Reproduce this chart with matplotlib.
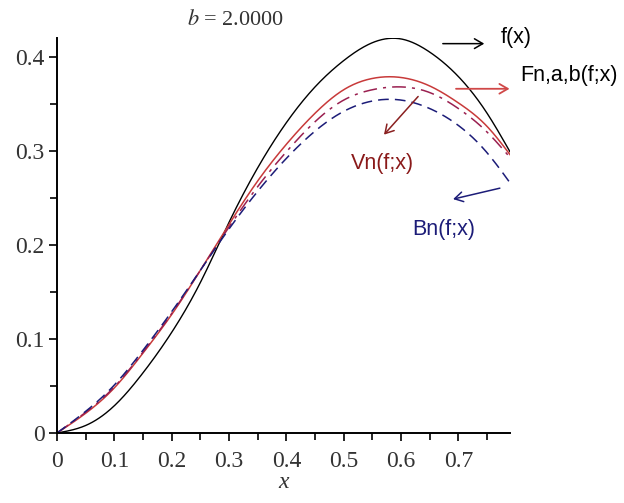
import numpy as np
import matplotlib
matplotlib.use("Agg")
import matplotlib.pyplot as plt

# Data
x_pts = [0, 0.05, 0.1, 0.15, 0.2, 0.25, 0.3, 0.35, 0.4, 0.45, 0.5, 0.55, 0.6, 0.65, 0.7, 0.75, 0.79]
f_vals = [0, 0.008, 0.029, 0.064, 0.107, 0.16, 0.224, 0.282, 0.33, 0.368, 0.396, 0.415, 0.419, 0.405, 0.379, 0.34, 0.299]
fn_vals = [0, 0.021, 0.048, 0.085, 0.126, 0.173, 0.222, 0.268, 0.307, 0.34, 0.365, 0.377, 0.378, 0.369, 0.351, 0.326, 0.296]
vn_vals = [0, 0.022, 0.049, 0.086, 0.127, 0.173, 0.219, 0.262, 0.299, 0.331, 0.354, 0.365, 0.368, 0.362, 0.345, 0.32, 0.293]
bn_vals = [0, 0.023, 0.051, 0.088, 0.129, 0.173, 0.217, 0.257, 0.292, 0.321, 0.342, 0.353, 0.354, 0.345, 0.327, 0.298, 0.266]

xticks = [0, 0.1, 0.2, 0.3, 0.4, 0.5, 0.6, 0.7]
xticklabels = ["0", "0.1", "0.2", "0.3", "0.4", "0.5", "0.6", "0.7"]
yticks = [0, 0.1, 0.2, 0.3, 0.4]
yticklabels = ["0", "0.1", "0.2", "0.3", "0.4"]


def spline(xs, ys, n=400):
    """Natural cubic spline through the read points."""
    xs = np.asarray(xs, float); ys = np.asarray(ys, float)
    m = len(xs)
    h = np.diff(xs)
    A = np.zeros((m, m)); r = np.zeros(m)
    A[0, 0] = A[-1, -1] = 1
    for i in range(1, m - 1):
        A[i, i - 1] = h[i - 1]
        A[i, i] = 2 * (h[i - 1] + h[i])
        A[i, i + 1] = h[i]
        r[i] = 6 * ((ys[i + 1] - ys[i]) / h[i] - (ys[i] - ys[i - 1]) / h[i - 1])
    M = np.linalg.solve(A, r)
    xx = np.linspace(xs[0], xs[-1], n)
    idx = np.clip(np.searchsorted(xs, xx) - 1, 0, m - 2)
    x0, x1 = xs[idx], xs[idx + 1]
    hh = x1 - x0
    a = (x1 - xx) / hh; b = (xx - x0) / hh
    yy = a * ys[idx] + b * ys[idx + 1] + ((a ** 3 - a) * M[idx] + (b ** 3 - b) * M[idx + 1]) * hh ** 2 / 6
    return xx, yy


fig = plt.figure(figsize=(6.24, 5.03), dpi=100)
ax = fig.add_axes([57/624, 70/503, (510-57)/624, (433-38)/503])

serif = "Liberation Serif"
sans = "Liberation Sans"

xx, yy = spline(x_pts, f_vals)
ax.plot(xx, yy, color="black", lw=1.0)
xx, yy = spline(x_pts, fn_vals)
ax.plot(xx, yy, color="#c83a3a", lw=1.1)
xx, yy = spline(x_pts, vn_vals)
ax.plot(xx, yy, color="#9a2050", lw=1.1, linestyle=(0, (9, 4, 2, 4)))
xx, yy = spline(x_pts, bn_vals)
ax.plot(xx, yy, color="#1c1c78", lw=1.1, linestyle=(0, (7, 4)))

ax.set_xlim(0, 0.79)
ax.set_ylim(0, 0.42)
for s in ["top", "right"]:
    ax.spines[s].set_visible(False)
ax.spines["left"].set_linewidth(1.4)
ax.spines["bottom"].set_linewidth(1.4)

ax.set_xticks(xticks)
ax.set_xticklabels(xticklabels, fontfamily=serif, fontsize=17, color="#333333")
ax.set_yticks(yticks)
ax.set_yticklabels(yticklabels, fontfamily=serif, fontsize=17, color="#333333")
ax.set_xticks(np.arange(0.05, 0.79, 0.1), minor=True)
ax.set_yticks(np.arange(0.05, 0.42, 0.1), minor=True)
ax.tick_params(which="major", length=6, width=1.2, direction="out")
ax.tick_params(which="minor", length=5, width=1.2, direction="out")
ax.tick_params(axis="x", which="major", pad=7)
ax.tick_params(axis="y", which="major", pad=3)

ax.set_xlabel("x", fontfamily=serif, fontstyle="italic", fontsize=17, labelpad=0, color="#333333")

fig.text(236/624, 1 - 20/503, r"$b$ = 2.0000", fontsize=16, ha="center", va="center",
         fontfamily=serif, math_fontfamily="stix", color="#333333")

ap = dict(arrowstyle="->,head_length=0.6,head_width=0.35", lw=1.1)
ax.annotate("", xy=(0.75, 0.414), xytext=(0.668, 0.414),
            arrowprops=dict(ap, color="black"), annotation_clip=False)
ax.text(0.773, 0.421, "f(x)", fontfamily=sans, fontsize=15.5, va="center", ha="left", clip_on=False)

ax.annotate("", xy=(0.794, 0.366), xytext=(0.691, 0.366),
            arrowprops=dict(ap, color="#d04848", lw=1.3), annotation_clip=False)
ax.text(0.808, 0.38, "Fn,a,b(f;x)", fontfamily=sans, fontsize=15.5, va="center", ha="left", clip_on=False)

ax.annotate("", xy=(0.567, 0.315), xytext=(0.633, 0.36),
            arrowprops=dict(ap, color="#8a2020"), annotation_clip=False)
ax.text(0.567, 0.287, "Vn(f;x)", fontfamily=sans, fontsize=15.5, color="#8a1a1a", va="center", ha="center")

ax.annotate("", xy=(0.686, 0.248), xytext=(0.777, 0.261),
            arrowprops=dict(ap, color="#1c1c78"), annotation_clip=False)
ax.text(0.674, 0.216, "Bn(f;x)", fontfamily=sans, fontsize=15.5, color="#1c1c78", va="center", ha="center")

fig.savefig("out.png", dpi=100)
